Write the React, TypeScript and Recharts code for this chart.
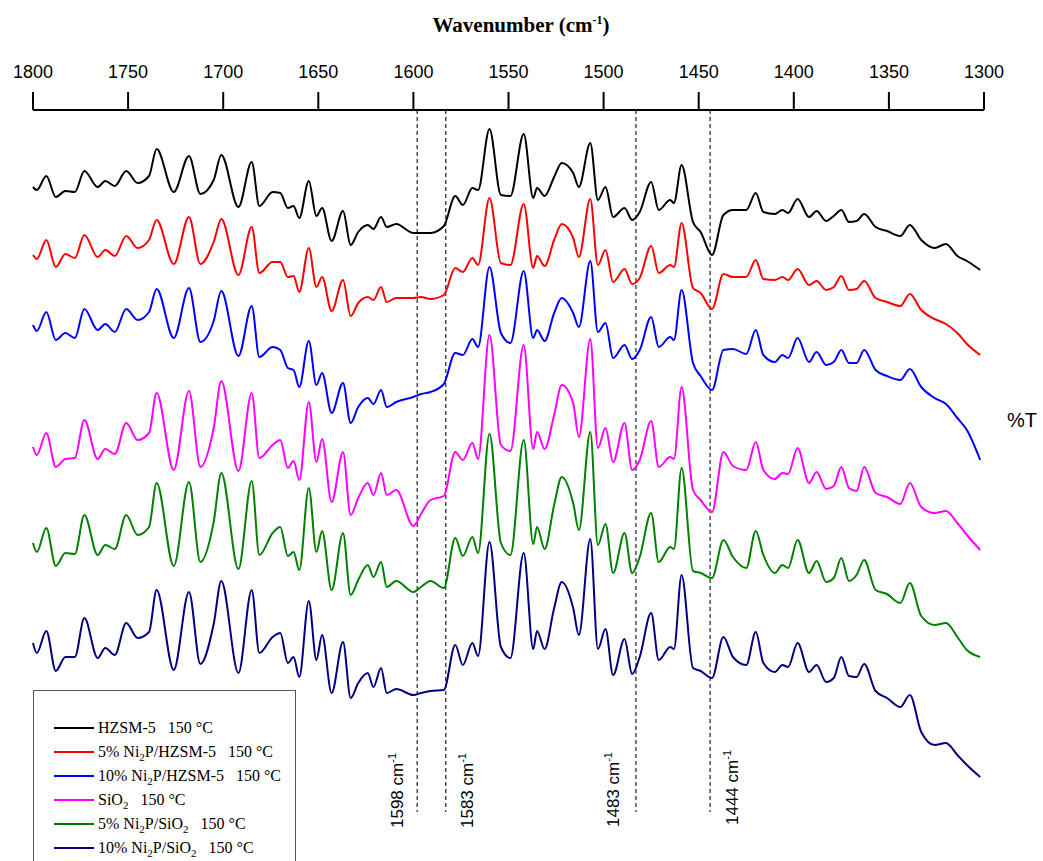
import React from 'react';
import { LineChart, Line, XAxis, YAxis, ReferenceLine, Legend, Label } from 'recharts';

// wavenumber grid (cm-1), read at the peaks / valleys of the spectra
const wavenumbers = [
  1800, 1798, 1793, 1788, 1783, 1778, 1773, 1766, 1762, 1757,
  1751, 1745, 1739, 1735, 1726, 1718, 1712, 1705, 1701, 1692,
  1685, 1681, 1674, 1670, 1666, 1663, 1660, 1655, 1651, 1648,
  1643, 1637, 1633, 1629, 1624, 1621, 1617, 1614, 1609, 1600,
  1596, 1591, 1584, 1578, 1574, 1569, 1566, 1560, 1554, 1549,
  1542, 1537, 1535, 1531, 1526, 1522, 1516, 1513, 1507, 1503,
  1499, 1495, 1489, 1485, 1481, 1475, 1471, 1465, 1463, 1459,
  1453, 1449, 1443, 1437, 1432, 1425, 1420, 1416, 1410, 1406,
  1403, 1398, 1392, 1388, 1383, 1379, 1375, 1371, 1367, 1363,
  1357, 1351, 1344, 1339, 1333, 1326, 1320, 1314, 1309, 1302,
];

// %T (arbitrary, offset units) for each sample
const hzsm5 = [
  620, 617, 631, 610, 616, 615, 636, 620, 626, 621,
  636, 624, 631, 658, 615, 651, 613, 627, 652, 600,
  645, 601, 615, 614, 599, 601, 589, 626, 591, 599,
  566, 596, 562, 575, 582, 578, 590, 580, 583, 574,
  574, 574, 581, 611, 602, 619, 617, 678, 612, 611,
  673, 609, 619, 611, 630, 644, 634, 620, 664, 607,
  620, 590, 599, 587, 595, 625, 597, 607, 604, 642,
  585, 575, 552, 592, 597, 597, 614, 595, 593, 597,
  594, 608, 590, 596, 586, 591, 597, 585, 586, 593,
  580, 576, 571, 582, 567, 559, 563, 551, 546, 537,
];

const ni2p5Hzsm5 = [
  552, 548, 567, 540, 553, 549, 572, 550, 557, 551,
  571, 559, 567, 587, 543, 590, 543, 565, 588, 532,
  580, 534, 545, 545, 530, 531, 515, 559, 520, 530,
  496, 527, 491, 504, 510, 507, 520, 505, 509, 509,
  510, 508, 512, 539, 535, 549, 542, 609, 544, 542,
  603, 539, 551, 541, 567, 583, 569, 550, 608, 542,
  557, 525, 538, 523, 529, 561, 534, 542, 540, 584,
  519, 514, 498, 533, 530, 530, 547, 528, 527, 530,
  527, 538, 522, 526, 517, 520, 531, 517, 518, 526,
  509, 505, 501, 513, 497, 488, 483, 474, 463, 452,
];

const ni2p10Hzsm5 = [
  482, 476, 495, 467, 474, 469, 498, 477, 483, 475,
  498, 487, 495, 518, 469, 519, 465, 486, 516, 451,
  501, 450, 460, 457, 439, 437, 420, 466, 422, 434,
  394, 424, 384, 400, 409, 403, 417, 400, 405, 410,
  413, 415, 423, 454, 452, 468, 460, 540, 474, 464,
  536, 469, 477, 466, 494, 509, 494, 480, 546, 475,
  484, 449, 462, 448, 457, 490, 460, 470, 467, 517,
  444, 431, 417, 457, 458, 453, 477, 452, 445, 452,
  449, 469, 445, 455, 442, 445, 457, 444, 444, 457,
  437, 431, 427, 438, 420, 409, 403, 389, 377, 347,
];

const sio2 = [
  360, 352, 374, 340, 348, 349, 387, 348, 358, 353,
  384, 367, 374, 414, 337, 416, 340, 379, 426, 336,
  414, 349, 362, 367, 339, 346, 327, 405, 345, 368,
  305, 355, 292, 309, 324, 312, 334, 312, 317, 281,
  293, 307, 311, 355, 347, 364, 348, 472, 362, 356,
  462, 358, 375, 358, 392, 422, 404, 370, 468, 359,
  379, 345, 384, 337, 347, 386, 340, 350, 348, 420,
  317, 307, 295, 355, 341, 337, 365, 337, 328, 334,
  333, 359, 324, 335, 318, 321, 340, 319, 316, 340,
  314, 310, 303, 324, 300, 294, 296, 284, 272, 257,
];

const ni2p5Sio2 = [
  264, 255, 279, 241, 254, 253, 292, 252, 262, 258,
  292, 272, 280, 324, 241, 325, 245, 285, 334, 238,
  326, 252, 274, 280, 251, 255, 237, 319, 255, 276,
  217, 274, 212, 227, 242, 230, 245, 220, 226, 215,
  220, 226, 219, 269, 251, 270, 254, 373, 264, 252,
  367, 263, 280, 258, 302, 330, 304, 277, 375, 262,
  283, 234, 274, 234, 250, 294, 245, 260, 258, 339,
  236, 234, 229, 267, 250, 239, 276, 252, 234, 242,
  239, 267, 234, 246, 225, 229, 249, 226, 232, 247,
  217, 213, 204, 224, 191, 182, 184, 170, 157, 150,
];

const ni2p10Sio2 = [
  164, 154, 176, 136, 150, 150, 189, 149, 159, 152,
  184, 169, 175, 217, 137, 215, 143, 183, 226, 134,
  217, 154, 170, 174, 144, 150, 130, 206, 147, 172,
  114, 165, 109, 124, 134, 120, 139, 114, 118, 112,
  114, 116, 117, 162, 142, 164, 151, 265, 160, 149,
  254, 158, 176, 158, 199, 225, 199, 172, 268, 158,
  178, 132, 168, 133, 150, 194, 147, 160, 158, 232,
  139, 136, 129, 170, 150, 142, 175, 144, 135, 142,
  140, 164, 135, 142, 125, 129, 150, 131, 130, 143,
  116, 109, 100, 112, 75, 62, 64, 52, 42, 30,
];

// "_2" marks a subscript digit
const seriesNames = [
  'HZSM-5',
  '5% Ni_2P/HZSM-5',
  '10% Ni_2P/HZSM-5',
  'SiO_2',
  '5% Ni_2P/SiO_2',
  '10% Ni_2P/SiO_2',
];
const temperatureLabel = '150 °C';

const xTicks = [1800, 1750, 1700, 1650, 1600, 1550, 1500, 1450, 1400, 1350, 1300];
const markerWavenumbers = [1598, 1583, 1483, 1444];

const SERIES = [
  { key: 'hzsm5', values: hzsm5, color: '#000000' },
  { key: 'ni2p5Hzsm5', values: ni2p5Hzsm5, color: '#ff0000' },
  { key: 'ni2p10Hzsm5', values: ni2p10Hzsm5, color: '#0000ff' },
  { key: 'sio2', values: sio2, color: '#ff00ff' },
  { key: 'ni2p5Sio2', values: ni2p5Sio2, color: '#008000' },
  { key: 'ni2p10Sio2', values: ni2p10Sio2, color: '#000080' },
];

const data = wavenumbers.map((wn, i) => {
  const row: Record<string, number> = { wn };
  SERIES.forEach((s) => {
    row[s.key] = s.values[i];
  });
  return row;
});

// label placement for the dashed marker lines (dx from the line, baseline y)
const MARKER_LABEL_DX = [-14, 27, -17, 28];
const MARKER_LABEL_Y = [828, 828, 827, 825];

const SERIF = '"Liberation Serif", "Times New Roman", Times, serif';
const SANS = '"Liberation Sans", Arial, Helvetica, sans-serif';

const renderName = (name: string) =>
  name.split(/_(\d)/).map((part, i) =>
    i % 2 === 1 ? (
      <span key={i} style={{ fontSize: 11, verticalAlign: -4, lineHeight: 0 }}>
        {part}
      </span>
    ) : (
      <span key={i}>{part}</span>
    )
  );

const renderLegend = (props: any) => {
  // keep the series order (recharts sorts legend items by name)
  const payload = [...(props.payload || [])].sort(
    (a: any, b: any) => seriesNames.indexOf(a.value) - seriesNames.indexOf(b.value)
  );
  return (
    <div
      style={{
        boxSizing: 'border-box',
        width: 263,
        height: 171,
        border: '1px solid #555',
        borderBottom: 'none',
        paddingTop: 25,
        paddingLeft: 20,
        background: '#fff',
        fontFamily: SERIF,
        fontSize: 16,
        color: '#000',
      }}
    >
      {payload.map((entry: any) => (
        <div key={entry.value} style={{ display: 'flex', alignItems: 'center', height: 24 }}>
          <span style={{ display: 'inline-block', width: 40, height: 2, background: entry.color, marginRight: 4 }} />
          <span style={{ whiteSpace: 'pre' }}>
            {renderName(entry.value)}
            {'   ' + temperatureLabel}
          </span>
        </div>
      ))}
    </div>
  );
};

const TitleLabel = () => (
  <text x={521} y={32} textAnchor="middle" fontFamily={SERIF} fontWeight="bold" fontSize={21} fill="#000">
    Wavenumber (cm
    <tspan dy={-8} fontSize={12}>
      -1
    </tspan>
    <tspan dy={8}>)</tspan>
  </text>
);

const PercentTLabel = () => (
  <text x={1007} y={427} fontFamily={SANS} fontSize={20} fill="#000">
    %T
  </text>
);

const markerLabel = (index: number) => (props: any) => {
  const vb = props.viewBox || {};
  const x = (vb.x || 0) + MARKER_LABEL_DX[index];
  const y = MARKER_LABEL_Y[index];
  return (
    <text x={x} y={y} transform={`rotate(-90, ${x}, ${y})`} fontFamily={SANS} fontSize={17} fill="#000">
      {markerWavenumbers[index]} cm
      <tspan dy={-7} fontSize={11}>
        -1
      </tspan>
    </text>
  );
};

export default function App() {
  return (
    <div style={{ position: 'absolute', left: 0, top: 0, width: 1043, height: 861, overflow: 'hidden', background: '#fff' }}>
      <LineChart width={1043} height={861} data={data} margin={{ top: 0, right: 0, bottom: 49, left: 33 }}>
        <XAxis
          dataKey="wn"
          type="number"
          orientation="top"
          domain={[1300, 1800]}
          reversed
          ticks={xTicks}
          height={110}
          stroke="#000"
          strokeWidth={2}
          tickSize={18}
          tickMargin={14}
          tick={{ fill: '#000', fontSize: 18, fontFamily: SANS }}
        >
          <Label content={<TitleLabel />} />
        </XAxis>
        <YAxis
          type="number"
          orientation="right"
          domain={[-5, 697]}
          width={59}
          axisLine={false}
          tickLine={false}
          tick={false}
        >
          <Label content={<PercentTLabel />} />
        </YAxis>
        {markerWavenumbers.map((wn, i) => (
          <ReferenceLine
            key={wn}
            x={wn}
            stroke="#333"
            strokeWidth={1.3}
            strokeDasharray="4 3"
            label={markerLabel(i)}
          />
        ))}
        {SERIES.map((s, i) => (
          <Line
            key={s.key}
            dataKey={s.key}
            name={seriesNames[i]}
            type="monotone"
            stroke={s.color}
            strokeWidth={2}
            dot={false}
            isAnimationActive={false}
          />
        ))}
        <Legend
          layout="vertical"
          align="center"
          verticalAlign="middle"
          wrapperStyle={{ left: 33, top: 690, width: 263, height: 171 }}
          content={renderLegend}
        />
      </LineChart>
    </div>
  );
}
